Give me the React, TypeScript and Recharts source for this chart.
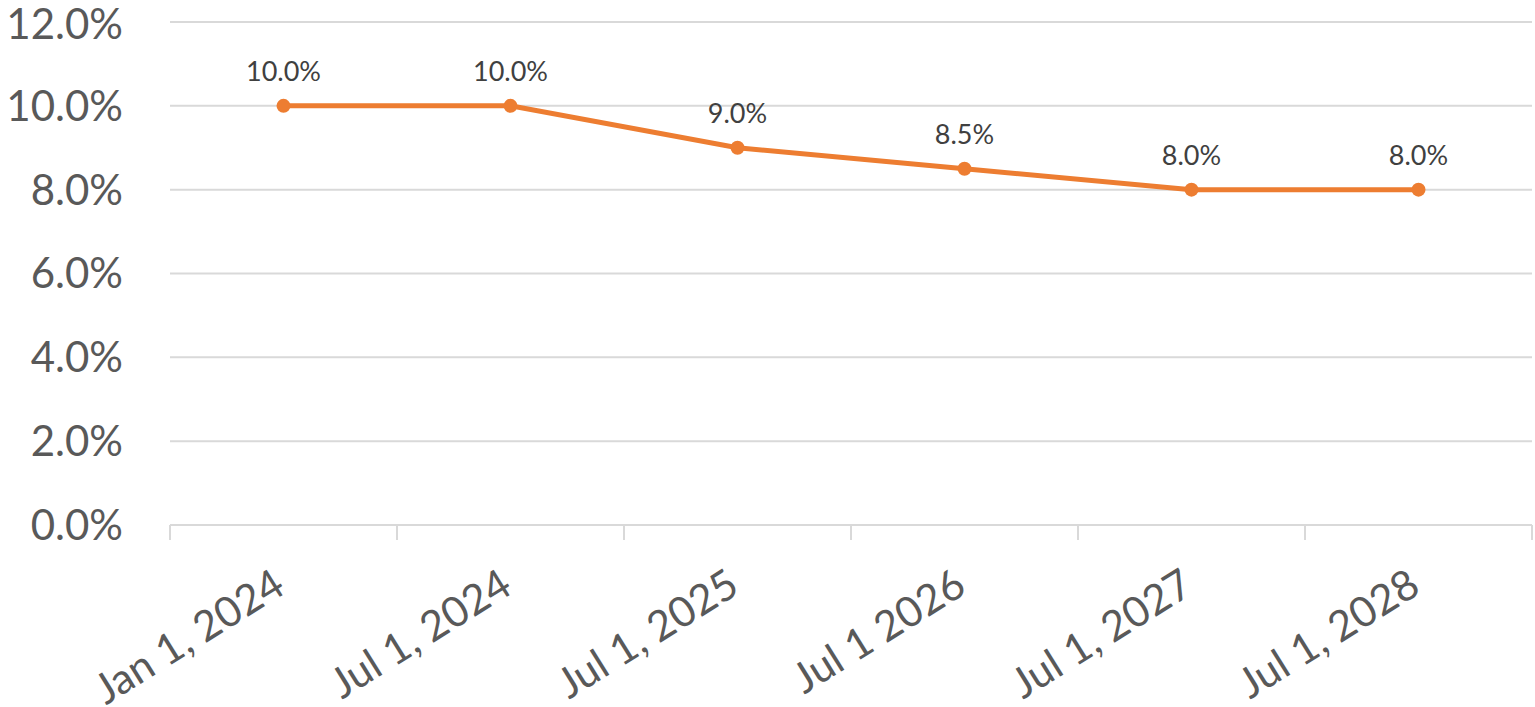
import React from "react";
import { LineChart, Line, XAxis, YAxis, CartesianGrid, LabelList } from "recharts";

const categories = ["Jan 1, 2024", "Jul 1, 2024", "Jul 1, 2025", "Jul 1 2026", "Jul 1, 2027", "Jul 1, 2028"];
const rates = [0.1, 0.1, 0.09, 0.085, 0.08, 0.08];
const yTicks = [0, 0.02, 0.04, 0.06, 0.08, 0.1, 0.12];

const data = categories.map((name, i) => ({ name, rate: rates[i] }));

const W = 1535;
const H = 707;
const LEFT = 170;
const RIGHT = 3;
const FONT = "Lato, 'Open Sans', sans-serif";
const band = (W - LEFT - RIGHT) / categories.length;

const pct = (v: number) => `${(v * 100).toFixed(1)}%`;

// ticks sit on the band edges, labels hang off the band centre
function XTick(props: any) {
  const { x, y, index, payload } = props;
  const last = index === categories.length - 1;
  const top = y - 8; // axis line
  return (
    <g>
      <line x1={x - band / 2} x2={x - band / 2} y1={top} y2={top + 15} stroke="#d9d9d9" strokeWidth={2} />
      {last && <line x1={x + band / 2} x2={x + band / 2} y1={top} y2={top + 15} stroke="#d9d9d9" strokeWidth={2} />}
      <text
        transform={`translate(${x + 4},${top + 67}) rotate(-32)`}
        textAnchor="end"
        fill="#595959"
        fontSize={42}
        fontFamily={FONT}
      >
        {payload.value}
      </text>
    </g>
  );
}

export default function App() {
  return (
    <div style={{ position: "absolute", left: 0, top: 0, background: "#fff" }}>
      <LineChart width={W} height={H} data={data} margin={{ top: 22, right: RIGHT, left: 0, bottom: 0 }}>
        <CartesianGrid vertical={false} stroke="#d9d9d9" strokeWidth={2} />
        <XAxis
          dataKey="name"
          height={H - 525}
          padding={{ left: band / 2, right: band / 2 }}
          axisLine={{ stroke: "#d9d9d9", strokeWidth: 2 }}
          tickLine={false}
          tick={<XTick />}
          interval={0}
        />
        <YAxis
          width={LEFT}
          domain={[0, 0.12]}
          ticks={yTicks}
          tickFormatter={pct}
          axisLine={false}
          tickLine={false}
          tickMargin={41}
          tick={{ fill: "#595959", fontSize: 42, fontFamily: FONT }}
        />
        <Line
          dataKey="rate"
          stroke="#ed7d31"
          strokeWidth={5}
          dot={{ r: 7, fill: "#ed7d31", stroke: "#ed7d31", strokeWidth: 0 }}
          isAnimationActive={false}
        >
          <LabelList
            dataKey="rate"
            position="top"
            offset={25}
            formatter={(v: any) => pct(Number(v))}
            fill="#404040"
            fontSize={27}
            fontFamily={FONT}
          />
        </Line>
      </LineChart>
    </div>
  );
}
